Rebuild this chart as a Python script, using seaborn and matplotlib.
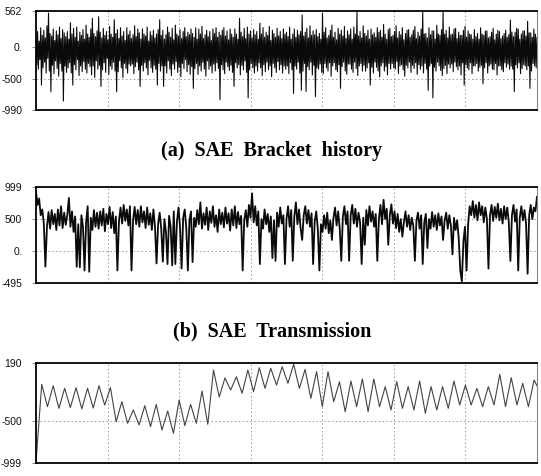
import numpy as np
import pandas as pd
import seaborn as sns
import matplotlib.pyplot as plt

# (a) SAE bracket load history, 641 samples (one row = 40 samples)
bracket = [
    120, -280, 240, -350, 90, -200, 300, -600, 180, -330, 260, -240, 140, -410, 330, -180, 530, -380, 210, -705,
    170, -290, 280, -420, 100, -220, 250, -340, 190, -460, 310, -260, 130, -380, 270, -850, 220, -300, 160, -400,
    240, -330, 120, -250, 378, -410, 200, -600, 290, -280, 150, -360, 310, -200, 90, -450, 230, -300, 180, -390,
    270, -230, 120, -350, 340, -410, 200, -260, 150, -310, 280, -440, 447, -300, 210, -480, 160, -220, 250, -350,
    473, -290, 230, -620, 140, -360, 290, -250, 180, -400, 240, -180, 110, -430, 320, -300, 200, -350, 150, -240,
    425, -380, 210, -705, 270, -390, 130, -220, 300, -330, 170, -480, 240, -260, 100, -340, 300, -410, 190, -270,
    250, -300, 130, -270, 190, -420, 330, -310, 160, -240, 280, -360, 220, -620, 120, -290, 280, -380, 200, -250,
    170, -330, 310, -440, 90, -210, 240, -330, 180, -400, 260, -290, 140, -350, 200, -600, 270, -260, 425, -380,
    180, -300, 260, -620, 120, -300, 190, -410, 310, -220, 230, -350, 150, -450, 290, -270, 110, -350, 340, -230,
    200, -400, 170, -320, 270, -470, 130, -260, 240, -340, 300, -200, 160, -390, 230, -280, 190, -430, 280, -310,
    210, -650, 150, -340, 300, -260, 120, -430, 280, -300, 200, -380, 320, -240, 130, -350, 190, -460, 260, -220,
    160, -350, 240, -300, 100, -410, 280, -270, 210, -380, 300, -250, 150, -340, 230, -830, 180, -280, 260, -360,
    300, -420, 170, -240, 250, -310, 110, -370, 280, -290, 200, -400, 150, -620, 280, -250, 200, -330, 120, -280,
    447, -440, 230, -290, 160, -360, 290, -220, 130, -400, 310, -800, 200, -360, 250, -260, 140, -330, 270, -410,
    190, -300, 240, -380, 120, -250, 370, -330, 200, -450, 300, -280, 150, -390, 230, -240, 180, -360, 320, -300,
    100, -470, 260, -260, 210, -330, 150, -400, 290, -230, 170, -360, 240, -280, 130, -410, 280, -300, 200, -350,
    230, -300, 160, -420, 310, -250, 120, -360, 200, -730, 280, -300, 150, -350, 260, -240, 190, -410, 240, -680,
    500, -380, 170, -260, 230, -700, 290, -310, 140, -360, 330, -240, 180, -440, 250, -290, 190, -780, 270, -330,
    160, -350, 210, -270, 120, -400, 525, -420, 230, -260, 300, -330, 140, -380, 180, -250, 260, -460, 340, -300,
    150, -250, 230, -360, 110, -390, 290, -280, 200, -650, 260, -310, 170, -240, 320, -380, 130, -430, 250, -270,
    190, -270, 280, -350, 120, -400, 310, -240, 200, -340, 545, -450, 170, -300, 240, -260, 140, -380, 330, -290,
    210, -380, 170, -330, 260, -250, 120, -600, 280, -320, 190, -410, 220, -240, 150, -320, 300, -380, 230, -470,
    260, -300, 150, -250, 350, -380, 200, -310, 120, -440, 270, -260, 290, -350, 160, -260, 180, -330, 240, -350,
    330, -230, 140, -420, 240, -300, 190, -280, 300, -360, 110, -460, 210, -290, 260, -330, 270, -240, 150, -400,
    190, -290, 260, -340, 320, -250, 130, -430, 230, -280, 170, -350, 280, -300, 545, -410, 200, -260, 210, -350,
    140, -680, 300, -300, 190, -260, 250, -800, 250, -320, 120, -380, 340, -240, 200, -300, 180, -370, 270, -450,
    545, -340, 200, -290, 260, -420, 140, -270, 310, -330, 190, -270, 200, -390, 280, -240, 290, -310, 130, -360,
    230, -300, 180, -440, 180, -250, 260, -600, 320, -280, 150, -330, 250, -360, 200, -250, 190, -420, 120, -300,
    270, -300, 160, -260, 210, -380, 120, -320, 300, -290, 200, -580, 180, -330, 250, -250, 250, -410, 140, -300,
    160, -270, 230, -350, 290, -360, 110, -260, 200, -440, 260, -300, 240, -300, 130, -360, 170, -390, 210, -250,
    260, -320, 150, -270, 190, -350, 420, -300, 230, -350, 160, -700, 230, -280, 290, -330, 280, -250, 120, -420,
    200, -340, 250, -280, 250, -300, 170, -360, 400, -300, 220, -650, 220, -380, 150, -260, 280, -300, 200, -330,
    150,
]

# (b) SAE transmission load history, 321 samples
transmission = [
    926, 720, 820, 560, 650, 430, -241, 380, 610, 350, 640, 420, 580, 330, 650, 400, 700, 360, 600, 410,
    560, 828, 380, 620, 300, 540, -241, 420, -250, 560, 380, -300, 450, 700, -320, 520, 330, 640, 380, 600,
    350, 620, 400, 660, 310, 580, 420, 690, 360, 610, 280, 540, -300, 470, 680, 430, 720, 470, 650, 400,
    700, -300, 480, 690, 420, 640, 380, 700, 450, 620, 360, 680, 410, 590, 330, 650, 380, -190, 420, 600,
    350, -163, 500, 300, -200, 550, 380, -220, 620, -200, 450, 680, 370, -270, 520, 650, 360, -300, 480, 620,
    -170, 520, 380, 640, 420, 760, 350, 590, 410, 680, 330, 620, 440, 700, 380, 560, 300, 650, 420, 600,
    370, 680, 430, 590, 320, 650, 400, 700, 360, 610, 420, 550, -300, 480, 640, 380, 720, 520, 900, 450,
    700, 400, 620, -200, 500, 350, 650, 420, 580, 300, 540, -106, 480, -150, 600, 380, 680, 430, 560, -200,
    500, 700, 380, 640, -150, 540, 760, 420, 650, 360, 175, 560, 700, 430, 640, 380, 590, -200, 460, 620,
    350, -300, 420, 300, 560, 350, 600, 280, 480, 175, 520, 680, 400, 620, 350, -150, 540, 700, 420, 620,
    -150, 560, 720, 430, 660, 380, 600, 450, -200, 520, 100, 640, 400, 700, 460, 620, 380, 580, -150, 500,
    720, 420, 800, 500, 660, 100, 560, 730, 430, 620, 360, 580, 300, 500, 226, 450, 620, 380, 560, 330,
    520, 400, -150, 480, 600, 350, 560, -200, 450, 580, 50, 500, 350, 610, 380, 560, 330, 590, 400, 540,
    175, 480, 600, 350, 560, 400, -50, 520, 330, 480, 200, -300, -470, 150, 380, -300, 420, 700, 560, 780,
    520, 720, 480, 760, 560, 700, 450, 680, 500, -270, 560, 720, 470, 690, 520, 740, 480, 660, 430, 700,
    500, 680, 450, -150, 560, 720, 460, 650, -300, 520, 700, 480, 640, 430, -350, 560, 720, 500, 680, 620,
    850,
]

# (c) third history: alternating peak / trough values, one every half cycle
third = [
    -990, -63, -329, -80, -349, -111, -340, -103, -355, -111, -345, -80, -310, -103,
    -508, -270, -527, -369, -547, -318, -567, -302, -607, -381, -646, -250, -555, -302, -527, -143, -539,
    107, -214, 12, -131, 27, -170, 107, -150, 134, -111, 127, -72, 146, -52, 174, -111, 115,
    -230, 87, -329, 87, -270, -32, -389, -24, -329, 0, -389, 0, -329, -91, -369, -32, -349, -91,
    -369, -24, -408, -91, -369, -91, -349, -24, -309, -72, -309, -111, -329, -91, -309, 55,
    -329, 16, -309, -52, -329, -12, -150,
]
third_step = 8  # time units between the samples of (c)

captions = ['(a)  SAE  Bracket  history', '(b)  SAE  Transmission']
ylims = [(-990, 562), (-495, 999), (-999, 190)]
yticks = [[562, 0, -500, -990], [999, 500, 0, -495], [190, -500, -999]]
ytick_labels = [['562', '0.', '-500', '-990'], ['999', '500', '0.', '-495'], ['190', '-500', '-999']]
grid_y = [[0, -500], [500, 0], [-500]]
grid_x = [100, 200, 300, 400, 500, 600]
t_end = 700

sns.set_style('white')
plt.rcParams['font.family'] = ['Liberation Sans Narrow', 'Liberation Sans', 'DejaVu Sans']

W, H = 541, 476
fig = plt.figure(figsize=(W / 100, H / 100), dpi=100)

# axes boxes in pixels: left, top, right, bottom
boxes = [(36, 11, 537, 110), (36, 187, 537, 283), (36, 363, 537, 463)]

frames = [
    pd.DataFrame({'t': np.linspace(0, t_end, len(bracket)), 'v': bracket}),
    pd.DataFrame({'t': np.linspace(0, t_end, len(transmission)), 'v': transmission}),
    pd.DataFrame({'t': np.arange(len(third)) * third_step, 'v': third}),
]
styles = [dict(color='#0a0a0a', linewidth=0.8), dict(color='#0a0a0a', linewidth=1.3),
          dict(color='#444444', linewidth=0.8)]

for i, (l, t, r, b) in enumerate(boxes):
    ax = fig.add_axes([l / W, 1 - b / H, (r - l) / W, (b - t) / H])
    for gx in grid_x:
        ax.axvline(gx, color='#999999', linestyle=(0, (1.5, 2.5)), linewidth=0.7, zorder=0)
    for gy in grid_y[i]:
        ax.axhline(gy, color='#999999', linestyle=(0, (1.5, 2.5)), linewidth=0.7, zorder=0)
    sns.lineplot(data=frames[i], x='t', y='v', ax=ax, estimator=None, **styles[i])
    ax.set_xlim(0, t_end)
    ax.set_ylim(*ylims[i])
    ax.set_xticks([])
    ax.set_yticks(yticks[i])
    ax.set_yticklabels(ytick_labels[i])
    ax.tick_params(axis='y', left=True, length=3, width=0.6, color='#777777', pad=7,
                   labelsize=7.5, labelcolor='#111111')
    ax.set_xlabel('')
    ax.set_ylabel('')
    for side in ['top', 'bottom', 'left']:
        ax.spines[side].set_color('black')
        ax.spines[side].set_linewidth(1.3)
    ax.spines['right'].set_color('#888888')
    ax.spines['right'].set_linewidth(0.8)

fig.text(0.502, 1 - 151 / H, captions[0], ha='center', va='center', color='black',
         family='Liberation Serif', fontweight='bold', fontsize=14.5)
fig.text(0.504, 1 - 331 / H, captions[1], ha='center', va='center', color='black',
         family='Liberation Serif', fontweight='bold', fontsize=14.5)

fig.savefig('out.png', dpi=100)
